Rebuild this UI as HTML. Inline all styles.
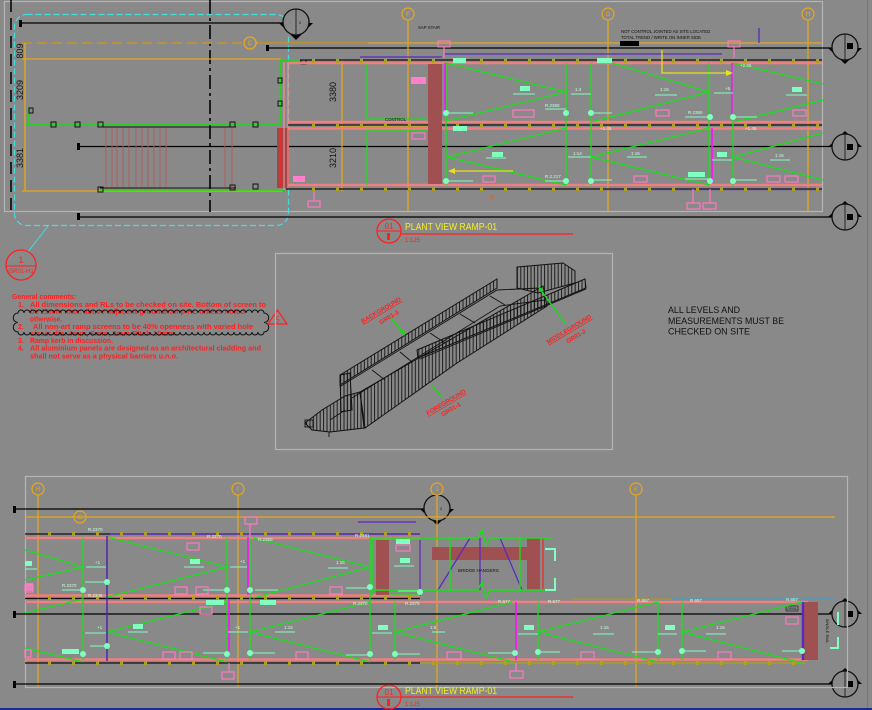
<!DOCTYPE html>
<html><head><meta charset="utf-8"><style>
html,body{margin:0;padding:0;background:#898989;}
svg{display:block;}
text{font-family:"Liberation Sans",sans-serif;}
</style></head><body>
<svg width="872" height="710" viewBox="0 0 872 710" xmlns="http://www.w3.org/2000/svg">
<defs>
<pattern id="h" width="3.4" height="10" patternUnits="userSpaceOnUse"><line x1="0.6" y1="0" x2="0.6" y2="10" stroke="#111" stroke-width="0.9"/></pattern>
<pattern id="ol" width="24" height="4" patternUnits="userSpaceOnUse"><rect x="0" y="0" width="3" height="4" fill="#b0a020"/></pattern>
</defs>
<rect width="872" height="710" fill="#898989"/>
<line x1="867.5" y1="0" x2="867.5" y2="710" stroke="#777" stroke-width="1"/>
<rect x="0" y="708" width="872" height="2" fill="#1c2a96"/>

<!-- ============ TOP PLAN ============ -->
<rect x="4.5" y="1.5" width="818" height="210" fill="none" stroke="#b4b4b4" stroke-width="1.2"/>
<line x1="11" y1="0" x2="11" y2="215" stroke="#000" stroke-width="1.5" stroke-dasharray="12 6"/>
<line x1="210" y1="0" x2="210" y2="212" stroke="#000" stroke-width="1.6" stroke-dasharray="14 4 3 4"/>
<rect x="14.5" y="14.5" width="274" height="211" rx="12" fill="none" stroke="#3fe0e0" stroke-width="1.2" stroke-dasharray="6 3"/>
<line x1="48" y1="226" x2="28" y2="252" stroke="#3fe0e0" stroke-width="1"/>

<!-- black long lines -->
<g stroke="#000" stroke-width="1.3">
<line x1="22" y1="23" x2="283" y2="23"/>
<line x1="258" y1="43" x2="368" y2="43"/>
<line x1="268" y1="48" x2="832" y2="48"/>
<line x1="78" y1="146.5" x2="832" y2="146.5"/>
<line x1="78" y1="217" x2="832" y2="217"/>
</g>
<rect x="19" y="20" width="3" height="7" fill="#000"/>
<rect x="266" y="45" width="3" height="6" fill="#000"/>
<rect x="77" y="143" width="3" height="7" fill="#000"/>
<rect x="77" y="213" width="3" height="7" fill="#000"/>

<!-- orange left structure -->
<line x1="22" y1="43" x2="244" y2="43" stroke="#c89428" stroke-width="1.6" stroke-dasharray="10 5"/>
<g stroke="#e8a818" stroke-width="1.3" fill="none">
<line x1="22" y1="59" x2="281" y2="59"/>
<line x1="25" y1="43" x2="25" y2="191"/>
<line x1="22" y1="191" x2="282" y2="191"/>
<line x1="256" y1="43" x2="430" y2="43"/>
<line x1="430" y1="43" x2="822" y2="43"/>
<circle cx="250" cy="43" r="6"/>
</g>
<g stroke="#e8a818" stroke-width="1.2" fill="none">
<line x1="342" y1="60" x2="342" y2="191"/>
<line x1="340" y1="126" x2="430" y2="126"/>
<line x1="408" y1="20" x2="408" y2="212"/>
<line x1="608" y1="20" x2="608" y2="212"/>
<line x1="808" y1="20" x2="808" y2="212"/>
<circle cx="408" cy="14" r="6"/>
<circle cx="608" cy="14" r="6"/>
<circle cx="808" cy="14" r="6"/>
</g>
<g fill="#e8a818" font-size="6" text-anchor="middle">
<text x="408" y="16">F</text><text x="608" y="16">G</text><text x="808" y="16">H</text><text x="250" y="45">C</text>
</g>
<!-- dims -->
<g fill="#111" font-size="9" text-anchor="middle">
<text transform="translate(23,51) rotate(-90)">809</text>
<text transform="translate(23,90) rotate(-90)">3209</text>
<text transform="translate(23,158) rotate(-90)">3381</text>
<text transform="translate(336,92) rotate(-90)">3380</text>
<text transform="translate(336,158) rotate(-90)">3210</text>
</g>

<!-- green stair area -->
<g stroke="#10e010" stroke-width="1.6" fill="none">
<polyline points="26,124 280,124 280,60 300,60"/>
<line x1="100" y1="190" x2="286" y2="190"/>
<line x1="29" y1="108" x2="29" y2="124"/>
</g>
<g stroke="#b05c5c" stroke-width="1">
<line x1="106" y1="127" x2="106" y2="187"/><line x1="112" y1="127" x2="112" y2="187"/><line x1="117" y1="127" x2="117" y2="187"/><line x1="123" y1="127" x2="123" y2="187"/><line x1="129" y1="127" x2="129" y2="187"/><line x1="136" y1="127" x2="136" y2="187"/><line x1="142" y1="127" x2="142" y2="187"/><line x1="148" y1="127" x2="148" y2="187"/><line x1="154" y1="127" x2="154" y2="187"/><line x1="160" y1="127" x2="160" y2="187"/><line x1="166" y1="127" x2="166" y2="187"/><line x1="225" y1="127" x2="225" y2="187"/><line x1="232" y1="127" x2="232" y2="187"/>
<line x1="212" y1="127" x2="232" y2="127"/>
</g>
<g stroke="#111" stroke-width="1">
<line x1="100" y1="127" x2="236" y2="127"/>
<line x1="100" y1="188" x2="236" y2="188"/>
</g>
<g fill="none" stroke="#111" stroke-width="1">
<rect x="51" y="122" width="5" height="5"/><rect x="75" y="122" width="5" height="5"/><rect x="98" y="122" width="5" height="5"/><rect x="230" y="122" width="5" height="5"/><rect x="253" y="122" width="5" height="5"/>
<rect x="98" y="187" width="5" height="5"/><rect x="230" y="185" width="5" height="5"/><rect x="253" y="184" width="5" height="5"/>
<rect x="278" y="78" width="4" height="5"/><rect x="278" y="101" width="4" height="5"/>
<rect x="29" y="108" width="4" height="5"/><rect x="301" y="60" width="5" height="4"/>
</g>
<rect x="277" y="128" width="12" height="60" fill="#a04848"/>
<line x1="281" y1="128" x2="281" y2="188" stroke="#ff2020" stroke-width="1.5"/>
<g stroke="#f08a8a" stroke-width="1.3">
<line x1="284" y1="62" x2="284" y2="190"/><line x1="288" y1="62" x2="288" y2="190"/>
</g>

<!-- top plan rails -->
<g stroke="#f08080" stroke-width="2.6">
<line x1="288" y1="63" x2="822" y2="63"/>
<line x1="288" y1="122" x2="822" y2="122"/>
<line x1="288" y1="128.5" x2="822" y2="128.5"/>
<line x1="288" y1="185" x2="822" y2="185"/>
</g>
<g stroke="#111" stroke-width="1.2">
<line x1="300" y1="60" x2="822" y2="60"/>
<line x1="288" y1="125" x2="822" y2="125"/>
<line x1="286" y1="189" x2="822" y2="189"/>
</g>
<line x1="600" y1="189.5" x2="822" y2="189.5" stroke="#5020b0" stroke-width="1.2"/>
<g stroke="#5a28c0" stroke-width="1.3">
<line x1="360" y1="57" x2="442" y2="57"/>
<line x1="445" y1="54" x2="722" y2="54"/>
<line x1="759" y1="28" x2="759" y2="43"/>
</g>
<rect x="292" y="59" width="530" height="4" fill="url(#ol)"/>
<rect x="292" y="123" width="530" height="4" fill="url(#ol)"/>
<rect x="292" y="187" width="530" height="4" fill="url(#ol)"/>
<rect x="428" y="64" width="14" height="120" fill="#a05050"/>

<g stroke="#18e018" stroke-width="1.3" fill="none">
<line x1="367" y1="64" x2="367" y2="120"/>
<line x1="367" y1="130" x2="367" y2="185"/>
<line x1="367" y1="119" x2="428" y2="119"/>
<line x1="367" y1="131" x2="428" y2="131"/>
<line x1="446" y1="63" x2="446" y2="185"/>
<line x1="566" y1="63" x2="566" y2="185"/>
<line x1="591" y1="63" x2="591" y2="185"/>
<line x1="709" y1="63" x2="709" y2="185"/>
<line x1="733" y1="63" x2="733" y2="185"/>
<polyline points="446,63 566,92 446,121"/>
<polyline points="612,63 709,92 591,122"/>
<polyline points="733,63 823,84"/>
<polyline points="733,122 823,100"/>
<polyline points="566,128 447,157 566,185"/>
<polyline points="709,128 591,157 709,185"/>
<polyline points="823,133 733,157 823,180"/>
</g>
<g stroke="#ff10ff" stroke-width="1.6">
<line x1="445" y1="63" x2="445" y2="113"/>
<line x1="732" y1="63" x2="732" y2="120"/>
<line x1="712" y1="128" x2="712" y2="183"/>
</g>
<g stroke="#e8e020" stroke-width="1.3" fill="none">
<polyline points="662,50 662,73 730,73"/>
<line x1="452" y1="171" x2="513" y2="171"/>
</g>
<polygon points="733,73 726,70 726,76" fill="#e8e020"/>
<polygon points="448,171 455,168 455,174" fill="#e8e020"/>

<!-- aqua items top -->
<g fill="#80ffc0">
<rect x="453" y="58" width="13" height="5"/><rect x="597" y="58" width="15" height="5"/>
<rect x="520" y="86" width="10" height="5"/><rect x="792" y="87" width="10" height="5"/>
<rect x="453" y="126" width="14" height="5"/><rect x="492" y="152" width="11" height="5"/>
<rect x="717" y="152" width="10" height="5"/><rect x="688" y="172" width="17" height="5"/>
<circle cx="446" cy="113" r="3"/><circle cx="566" cy="113" r="3"/><circle cx="591" cy="113" r="3"/><circle cx="710" cy="117" r="3"/><circle cx="733" cy="117" r="3"/>
<circle cx="446" cy="181" r="3"/><circle cx="566" cy="181" r="3"/><circle cx="591" cy="181" r="3"/><circle cx="710" cy="181" r="3"/><circle cx="733" cy="181" r="3"/>
</g>
<g stroke="#80ffc0" stroke-width="1">
<line x1="446" y1="113" x2="473" y2="113"/><line x1="545" y1="109" x2="566" y2="109"/><line x1="591" y1="113" x2="612" y2="113"/><line x1="685" y1="117" x2="709" y2="117"/><line x1="733" y1="117" x2="757" y2="117"/>
<line x1="513" y1="94" x2="535" y2="94"/><line x1="571" y1="94" x2="591" y2="94"/><line x1="655" y1="95" x2="677" y2="95"/><line x1="714" y1="93" x2="733" y2="93"/><line x1="786" y1="95" x2="807" y2="95"/>
<line x1="486" y1="158" x2="506" y2="158"/><line x1="568" y1="157" x2="591" y2="157"/><line x1="627" y1="157" x2="647" y2="157"/><line x1="712" y1="160" x2="732" y2="160"/><line x1="770" y1="160" x2="790" y2="160"/>
<line x1="446" y1="181" x2="473" y2="181"/><line x1="545" y1="181" x2="566" y2="181"/><line x1="591" y1="180" x2="612" y2="180"/><line x1="685" y1="179" x2="710" y2="179"/><line x1="733" y1="180" x2="757" y2="180"/>
</g>
<g fill="#c8ffe0" font-size="4.5">
<text x="575" y="91">1:4</text><text x="660" y="91">1:15</text><text x="725" y="90">+5</text>
<text x="573" y="155">1:14</text><text x="631" y="155">1:15</text><text x="775" y="157">1:15</text>
<text x="545" y="107">R.2350</text><text x="688" y="114">R.2350</text><text x="545" y="178">R.2.217</text>
<text x="740" y="67">+2.55</text><text x="600" y="130">+1.45</text><text x="745" y="130">+1.45</text>
</g>
<!-- pink boxes top -->
<g fill="none" stroke="#ff78c0" stroke-width="1.2">
<rect x="438" y="41" width="12" height="6"/><rect x="728" y="41" width="12" height="6"/>
<rect x="513" y="110" width="21" height="7"/><rect x="656" y="110" width="13" height="6"/><rect x="793" y="110" width="13" height="6"/>
<rect x="483" y="176" width="12" height="6"/><rect x="634" y="176" width="13" height="6"/><rect x="767" y="176" width="13" height="6"/><rect x="785" y="176" width="13" height="6"/>
<rect x="687" y="203" width="13" height="6"/><rect x="703" y="203" width="13" height="6"/>
<rect x="308" y="201" width="12" height="6"/><rect x="412" y="133" width="13" height="6"/>
<line x1="693" y1="189" x2="693" y2="203"/><line x1="710" y1="189" x2="710" y2="203"/><line x1="314" y1="191" x2="314" y2="201"/>
<line x1="444" y1="47" x2="444" y2="58"/><line x1="734" y1="47" x2="734" y2="58"/>
</g>
<rect x="411" y="77" width="15" height="7" fill="#ff80c8"/>
<rect x="293" y="176" width="12" height="6" fill="#ff80c8"/>
<text x="490" y="199" fill="#e06020" font-size="5">B</text>
<g fill="#111" font-size="4.3">
<text x="418" y="29">SAP STAIR</text>
<text x="385" y="121">CONTROL</text>
<text x="621" y="33">NOT CONTROL JOINTED AS SITE LOCATED</text>
<text x="621" y="39">TOTAL TREND / WRITE ON INNER SIDE</text>
</g>
<rect x="620" y="41" width="19" height="5" fill="#000"/>

<!-- section markers -->
<g>
<polygon points="279,23 313,23 296,40" fill="#000"/>
<circle cx="296" cy="22" r="13" fill="#898989" stroke="#111" stroke-width="1.3"/>
<line x1="296" y1="9" x2="296" y2="35" stroke="#111" stroke-width="0.8"/>
<text x="290" y="24" font-size="4" fill="#111">·</text><text x="299" y="24" font-size="4" fill="#111">2</text>

<polygon points="828,48 862,48 845,64" fill="#000"/>
<circle cx="845" cy="47" r="13" fill="#898989" stroke="#111" stroke-width="1.3"/>
<line x1="845" y1="34" x2="845" y2="60" stroke="#111" stroke-width="0.8"/>
<rect x="847" y="43" width="6" height="6" fill="#000"/>

<polygon points="828,147 862,147 845,131" fill="#000"/>
<circle cx="845" cy="147" r="13" fill="#898989" stroke="#111" stroke-width="1.3"/>
<line x1="845" y1="134" x2="845" y2="160" stroke="#111" stroke-width="0.8"/>
<rect x="847" y="144" width="6" height="6" fill="#000"/>

<polygon points="828,217 862,217 845,201" fill="#000"/>
<circle cx="845" cy="217" r="13" fill="#898989" stroke="#111" stroke-width="1.3"/>
<line x1="845" y1="204" x2="845" y2="230" stroke="#111" stroke-width="0.8"/>
<rect x="847" y="214" width="6" height="6" fill="#000"/>

<polygon points="420,509 454,509 437,525" fill="#000"/>
<circle cx="437" cy="508" r="13" fill="#898989" stroke="#111" stroke-width="1.3"/>
<line x1="437" y1="495" x2="437" y2="521" stroke="#111" stroke-width="0.8"/>
<text x="432" y="510" font-size="4" fill="#111">·</text><text x="440" y="510" font-size="4" fill="#111">2</text>

<polygon points="828,614 862,614 845,598" fill="#000"/>
<circle cx="845" cy="614" r="13" fill="#898989" stroke="#111" stroke-width="1.3"/>
<line x1="845" y1="601" x2="845" y2="627" stroke="#111" stroke-width="0.8"/>
<rect x="847" y="611" width="6" height="6" fill="#000"/>

<polygon points="828,684 862,684 845,668" fill="#000"/>
<circle cx="845" cy="684" r="13" fill="#898989" stroke="#111" stroke-width="1.3"/>
<line x1="845" y1="671" x2="845" y2="697" stroke="#111" stroke-width="0.8"/>
<rect x="847" y="681" width="6" height="6" fill="#000"/>
</g>

<!-- top title -->
<circle cx="389" cy="231" r="12" fill="none" stroke="#ff2020" stroke-width="1.3"/>
<line x1="377" y1="231" x2="573" y2="234" stroke="none"/>
<line x1="377" y1="231" x2="401" y2="231" stroke="#ff2020" stroke-width="1"/>
<line x1="401" y1="234" x2="573" y2="234" stroke="#ff2020" stroke-width="1.2"/>
<rect x="387" y="233" width="3" height="7" fill="#ff2020"/>
<text x="389" y="229" fill="#ff2020" font-size="8" text-anchor="middle">01</text>
<text x="405" y="230" fill="#f0f020" font-size="10.5" textLength="92" lengthAdjust="spacingAndGlyphs">PLANT VIEW RAMP-01</text>
<text x="405" y="242" fill="#ff2020" font-size="6">1:125</text>

<!-- detail callout -->
<circle cx="21" cy="265" r="15" fill="none" stroke="#ff2020" stroke-width="1.3"/>
<line x1="6" y1="266" x2="36" y2="266" stroke="#ff2020" stroke-width="1"/>
<text x="21" y="263" fill="#ff2020" font-size="9" text-anchor="middle">1</text>
<text x="21" y="273" fill="#ff2020" font-size="6" text-anchor="middle">GR01-H1</text>

<!-- general comments -->
<g fill="#ff2020" font-size="7" font-weight="bold">
<text x="12" y="299" textLength="64" lengthAdjust="spacingAndGlyphs">General comments:</text>
<text x="18" y="307">1.</text>
<text x="30" y="307" textLength="236" lengthAdjust="spacingAndGlyphs">All dimensions and RLs to be checked on site. Bottom of screen to</text>
<text x="30" y="314" textLength="215" lengthAdjust="spacingAndGlyphs">be 25mm max. above adjacent ground/ramp RL unless noted</text>
<text x="30" y="321.5" textLength="32" lengthAdjust="spacingAndGlyphs">otherwise.</text>
<text x="18" y="329">2.</text>
<text x="33" y="329" textLength="220" lengthAdjust="spacingAndGlyphs">All non-art ramp screens to be 40% openness with varied hole</text>
<text x="30" y="336" textLength="147" lengthAdjust="spacingAndGlyphs">sizes: dia. 4mm, 6mm, 8mm Pitch 10mm.</text>
<text x="18" y="343">3.</text>
<text x="30" y="343" textLength="83" lengthAdjust="spacingAndGlyphs">Ramp kerb in discussion.</text>
<text x="18" y="350.5">4.</text>
<text x="30" y="350.5" textLength="231" lengthAdjust="spacingAndGlyphs">All aluminium panels are designed as an architectural cladding and</text>
<text x="30" y="358.5" textLength="148" lengthAdjust="spacingAndGlyphs">shall not serve as a physical barriers u.n.o.</text>
</g>
<path d="M18 313 a3 3 0 0 1 6 0 a3 3 0 0 1 6 0 a3 3 0 0 1 6 0 a3 3 0 0 1 6 0 a3 3 0 0 1 6 0 a3 3 0 0 1 6 0 a3 3 0 0 1 6 0 a3 3 0 0 1 6 0 a3 3 0 0 1 6 0 a3 3 0 0 1 6 0 a3 3 0 0 1 6 0 a3 3 0 0 1 6 0 a3 3 0 0 1 6 0 a3 3 0 0 1 6 0 a3 3 0 0 1 6 0 a3 3 0 0 1 6 0 a3 3 0 0 1 6 0 a3 3 0 0 1 6 0 a3 3 0 0 1 6 0 a3 3 0 0 1 6 0 a3 3 0 0 1 6 0 a3 3 0 0 1 6 0 a3 3 0 0 1 6 0 a3 3 0 0 1 6 0 a3 3 0 0 1 6 0 a3 3 0 0 1 6 0 a3 3 0 0 1 6 0 a3 3 0 0 1 6 0 a3 3 0 0 1 6 0 a3 3 0 0 1 6 0 a3 3 0 0 1 6 0 a3 3 0 0 1 6 0 a3 3 0 0 1 6 0 a3 3 0 0 1 6 0 a3 3 0 0 1 6 0 a3 3 0 0 1 6 0 a3 3 0 0 1 6 0 a3 3 0 0 1 6 0 a3 3 0 0 1 6 0 a3 3 0 0 1 6 0 a3 3 0 0 1 6 0 a4 4 0 0 1 0 9.5 a4 4 0 0 1 0 9.5 a3 3 0 0 1 -6 0 a3 3 0 0 1 -6 0 a3 3 0 0 1 -6 0 a3 3 0 0 1 -6 0 a3 3 0 0 1 -6 0 a3 3 0 0 1 -6 0 a3 3 0 0 1 -6 0 a3 3 0 0 1 -6 0 a3 3 0 0 1 -6 0 a3 3 0 0 1 -6 0 a3 3 0 0 1 -6 0 a3 3 0 0 1 -6 0 a3 3 0 0 1 -6 0 a3 3 0 0 1 -6 0 a3 3 0 0 1 -6 0 a3 3 0 0 1 -6 0 a3 3 0 0 1 -6 0 a3 3 0 0 1 -6 0 a3 3 0 0 1 -6 0 a3 3 0 0 1 -6 0 a3 3 0 0 1 -6 0 a3 3 0 0 1 -6 0 a3 3 0 0 1 -6 0 a3 3 0 0 1 -6 0 a3 3 0 0 1 -6 0 a3 3 0 0 1 -6 0 a3 3 0 0 1 -6 0 a3 3 0 0 1 -6 0 a3 3 0 0 1 -6 0 a3 3 0 0 1 -6 0 a3 3 0 0 1 -6 0 a3 3 0 0 1 -6 0 a3 3 0 0 1 -6 0 a3 3 0 0 1 -6 0 a3 3 0 0 1 -6 0 a3 3 0 0 1 -6 0 a3 3 0 0 1 -6 0 a3 3 0 0 1 -6 0 a3 3 0 0 1 -6 0 a3 3 0 0 1 -6 0 a3 3 0 0 1 -6 0 a4 4 0 0 1 0 -9.5 a4 4 0 0 1 0 -9.5 Z" fill="none" stroke="#111" stroke-width="1"/>
<polygon points="268,324 287,324 277.5,310" fill="none" stroke="#ff2020" stroke-width="1.2"/>
<text x="277.5" y="322.5" fill="#ff2020" font-size="8" text-anchor="middle">5</text>

<!-- middle iso box -->
<rect x="275.5" y="253.5" width="337" height="196" fill="none" stroke="#b4b4b4" stroke-width="1.2"/>
<g stroke="#111" stroke-width="1" fill="url(#h)">
<polygon points="340,375 497,279 497,288 340,385"/>
<polygon points="417,350 585,279 586,288 418,358"/>
<polygon points="360,392 543,286 547,306 457,363 365,428"/>
<polygon points="517,267 563,263 575,271 575,283 538,293 517,288"/>
<polygon points="340,375 350,373 352,410 341,412"/>
<polygon points="305,423 322,410 345,396 360,392 364,428 330,432 312,430"/>
</g>
<g stroke="#111" stroke-width="0.9" fill="none">
<polyline points="341,386 497,290 540,288"/>
<polyline points="352,398 500,306 545,300"/>
<line x1="420" y1="359" x2="586" y2="289"/>
<line x1="372" y1="370" x2="385" y2="380"/><line x1="400" y1="352" x2="412" y2="362"/><line x1="430" y1="333" x2="445" y2="343"/><line x1="460" y1="314" x2="475" y2="323"/><line x1="490" y1="296" x2="505" y2="305"/>
<rect x="305" y="420" width="8" height="7"/>
<line x1="329" y1="432" x2="329" y2="437"/><line x1="330" y1="420" x2="345" y2="410"/>
</g>
<g stroke="#10e010" stroke-width="1.4">
<line x1="390" y1="317" x2="404" y2="334"/>
<line x1="565" y1="323" x2="540" y2="289"/>
<line x1="432" y1="385" x2="442" y2="398"/>
</g>
<polygon points="405,336 399,331 404,329" fill="#10e010"/>
<polygon points="538,286 544,290 540,292" fill="#10e010"/>
<g fill="#ff2020" font-size="6.2" font-weight="bold" text-anchor="middle">
<text transform="translate(382,312) rotate(-31)" text-decoration="underline">BACKGROUND</text>
<text transform="translate(390,319) rotate(-31)">GR01-3</text>
<text transform="translate(570,331) rotate(-31)" text-decoration="underline">MIDDLEGROUND</text>
<text transform="translate(577,338) rotate(-31)">GR01-2</text>
<text transform="translate(447,404) rotate(-31)" text-decoration="underline">FOREGROUND</text>
<text transform="translate(452,411) rotate(-31)">GR01-1</text>
</g>

<g fill="#111" font-size="9.3">
<text x="668" y="313" textLength="72" lengthAdjust="spacingAndGlyphs">ALL LEVELS AND</text>
<text x="668" y="324" textLength="116" lengthAdjust="spacingAndGlyphs">MEASUREMENTS MUST BE</text>
<text x="668" y="334.5" textLength="82" lengthAdjust="spacingAndGlyphs">CHECKED ON SITE</text>
</g>

<!-- ============ BOTTOM PLAN ============ -->
<rect x="25.5" y="476.5" width="822" height="211" fill="none" stroke="#b4b4b4" stroke-width="1.2"/>
<g stroke="#e8a818" stroke-width="1.2" fill="none">
<line x1="38" y1="495" x2="38" y2="688"/>
<line x1="238" y1="495" x2="238" y2="688"/>
<line x1="437" y1="495" x2="437" y2="688"/>
<line x1="636" y1="495" x2="636" y2="688"/>
<line x1="25" y1="517" x2="835" y2="517"/>
<circle cx="38" cy="489" r="6"/><circle cx="238" cy="489" r="6"/><circle cx="437" cy="489" r="6"/><circle cx="636" cy="489" r="6"/>
<circle cx="80" cy="517" r="6"/>
</g>
<g fill="#e8a818" font-size="6" text-anchor="middle">
<text x="38" y="491">H</text><text x="238" y="491">I</text><text x="437" y="491">J</text><text x="636" y="491">K</text><text x="80" y="519">C</text>
</g>
<g stroke="#000" stroke-width="1.3">
<line x1="14" y1="509" x2="424" y2="509"/>
<line x1="14" y1="614" x2="832" y2="614"/>
<line x1="14" y1="684" x2="832" y2="684"/>
</g>
<rect x="13" y="506" width="3" height="7" fill="#000"/>
<rect x="13" y="611" width="3" height="7" fill="#000"/>
<rect x="13" y="681" width="3" height="7" fill="#000"/>
<line x1="358" y1="522" x2="416" y2="522" stroke="#5a28c0" stroke-width="1.3"/>

<!-- bottom rails -->
<g stroke="#f08080" stroke-width="2.6">
<line x1="25" y1="538" x2="420" y2="538"/>
<line x1="25" y1="595.5" x2="420" y2="595.5"/>
<line x1="25" y1="602" x2="808" y2="602"/>
<line x1="25" y1="659.5" x2="808" y2="659.5"/>
</g>
<g stroke="#111" stroke-width="1.2">
<line x1="25" y1="534" x2="420" y2="534"/>
<line x1="25" y1="598.5" x2="420" y2="598.5"/>
<line x1="25" y1="663" x2="420" y2="663"/>
</g>
<line x1="110" y1="534" x2="420" y2="534" stroke="#5a28c0" stroke-width="1.2"/>
<line x1="420" y1="663" x2="805" y2="663" stroke="#a8a020" stroke-width="1.4"/>
<line x1="572" y1="599" x2="672" y2="599" stroke="#a8a020" stroke-width="1"/>
<line x1="672" y1="599" x2="835" y2="599" stroke="#30a8d0" stroke-width="1"/>
<rect x="30" y="532" width="390" height="4" fill="url(#ol)"/>
<rect x="30" y="596" width="390" height="4" fill="url(#ol)"/>
<rect x="30" y="661" width="775" height="4" fill="url(#ol)"/>

<!-- bridge -->
<rect x="376" y="540" width="13" height="55" fill="#a05050"/>
<rect x="432" y="547" width="95" height="13" fill="#a05050"/>
<rect x="527" y="538" width="13" height="52" fill="#a05050"/>
<line x1="543" y1="538" x2="543" y2="590" stroke="#ff2020" stroke-width="1.2"/>
<g stroke="#5a28c0" stroke-width="1.2">
<line x1="438" y1="590" x2="470" y2="538"/>
<line x1="480" y1="538" x2="480" y2="590"/>
<line x1="500" y1="538" x2="522" y2="590"/>
<line x1="420" y1="540" x2="420" y2="596"/>
</g>
<g stroke="#18e018" stroke-width="1.4" fill="none">
<polyline points="370,538 478,538 482,530 486,545 490,538 552,538"/>
<polyline points="372,590 478,590 482,582 486,598 490,590 552,590"/>
<line x1="372" y1="538" x2="372" y2="596"/>
<line x1="450" y1="538" x2="450" y2="590"/>
<line x1="520" y1="538" x2="520" y2="590"/>
</g>
<g stroke="#80ffc0" stroke-width="2" fill="none">
<polyline points="545,549 555,549 555,561"/>
<polyline points="545,590 555,590 555,578"/>
<polyline points="838,612 838,625"/>
<polyline points="830,648 838,648 838,637"/>
</g>
<text x="458" y="572" fill="#111" font-size="4.5">BRIDGE HANGERS</text>
<rect x="803" y="602" width="15" height="58" fill="#a05050"/>
<line x1="803" y1="602" x2="803" y2="660" stroke="#5a28c0" stroke-width="2.4"/>
<text transform="translate(826,631) rotate(90)" fill="#111" font-size="4" text-anchor="middle">SINGLE RAIL</text>
<rect x="786" y="606" width="12" height="5" fill="none" stroke="#111" stroke-width="0.6"/>
<text x="787" y="610" fill="#111" font-size="3.8">GR01</text>

<!-- bottom green verticals/zigzags -->
<g stroke="#18e018" stroke-width="1.3" fill="none">
<line x1="83" y1="538" x2="83" y2="660"/>
<line x1="227" y1="538" x2="227" y2="660"/>
<line x1="250" y1="538" x2="250" y2="660"/>
<line x1="370" y1="538" x2="370" y2="660"/>
<line x1="395" y1="602" x2="395" y2="660"/>
<line x1="538" y1="602" x2="538" y2="660"/>
<line x1="658" y1="602" x2="658" y2="660"/>
<line x1="682" y1="602" x2="682" y2="660"/>
<polyline points="25,550 83,567 25,580"/>
<polyline points="107,537 227,567 107,597"/>
<polyline points="253,538 370,567 253,598"/>
<polyline points="25,613 83,599"/>
<polyline points="25,648 83,662"/>
<polyline points="227,602 107,632 227,662"/>
<polyline points="370,602 250,632 370,662"/>
<polyline points="512,602 395,632 513,662"/>
<polyline points="658,602 538,632 658,662"/>
<polyline points="802,602 682,632 802,663"/>
<line x1="389" y1="595" x2="420" y2="595"/>
</g>
<line x1="107" y1="536" x2="107" y2="661" stroke="#4a20b0" stroke-width="1.4"/>
<g stroke="#ff10ff" stroke-width="1.6">
<line x1="248" y1="537" x2="248" y2="595"/>
<line x1="229" y1="600" x2="229" y2="656"/>
<line x1="516" y1="602" x2="516" y2="660"/>
</g>

<!-- aqua bottom -->
<g fill="#80ffc0">
<rect x="190" y="559" width="10" height="5"/><rect x="25" y="561" width="7" height="5"/>
<rect x="206" y="600" width="18" height="5"/><rect x="260" y="600" width="16" height="5"/>
<rect x="133" y="624" width="10" height="5"/><rect x="62" y="649" width="17" height="5"/>
<rect x="378" y="625" width="10" height="5"/><rect x="524" y="625" width="10" height="5"/><rect x="665" y="625" width="10" height="5"/>
<rect x="396" y="539" width="14" height="5"/><rect x="400" y="558" width="10" height="5"/><rect x="398" y="539" width="0" height="0"/>
<circle cx="83" cy="590" r="3"/><circle cx="107" cy="582" r="3"/><circle cx="227" cy="590" r="3"/><circle cx="250" cy="590" r="3"/><circle cx="370" cy="587" r="3"/><circle cx="420" cy="592" r="3"/>
<circle cx="83" cy="654" r="3"/><circle cx="107" cy="646" r="3"/><circle cx="227" cy="654" r="3"/><circle cx="250" cy="653" r="3"/><circle cx="370" cy="654" r="3"/><circle cx="395" cy="654" r="3"/>
<circle cx="515" cy="653" r="3"/><circle cx="538" cy="652" r="3"/><circle cx="658" cy="652" r="3"/><circle cx="682" cy="651" r="3"/><circle cx="802" cy="651" r="3"/>
</g>
<g stroke="#80ffc0" stroke-width="1">
<line x1="184" y1="567" x2="204" y2="567"/><line x1="86" y1="567" x2="106" y2="567"/><line x1="25" y1="569" x2="37" y2="569"/><line x1="230" y1="567" x2="247" y2="567"/><line x1="328" y1="568" x2="348" y2="568"/><line x1="394" y1="566" x2="414" y2="566"/>
<line x1="62" y1="590" x2="83" y2="590"/><line x1="85" y1="582" x2="107" y2="582"/><line x1="203" y1="590" x2="227" y2="590"/><line x1="255" y1="590" x2="278" y2="590"/><line x1="346" y1="588" x2="370" y2="588"/><line x1="398" y1="591" x2="420" y2="591"/>
<line x1="128" y1="632" x2="148" y2="632"/><line x1="85" y1="633" x2="106" y2="633"/><line x1="228" y1="632" x2="248" y2="632"/><line x1="275" y1="632" x2="295" y2="632"/><line x1="372" y1="633" x2="392" y2="633"/>
<line x1="90" y1="646" x2="107" y2="646"/><line x1="203" y1="653" x2="227" y2="653"/><line x1="250" y1="653" x2="275" y2="653"/><line x1="346" y1="655" x2="370" y2="655"/><line x1="395" y1="654" x2="420" y2="654"/>
<line x1="518" y1="634" x2="538" y2="634"/><line x1="593" y1="634" x2="614" y2="634"/><line x1="658" y1="634" x2="677" y2="634"/><line x1="706" y1="634" x2="726" y2="634"/><line x1="432" y1="632" x2="445" y2="632"/>
<line x1="488" y1="653" x2="515" y2="653"/><line x1="538" y1="652" x2="560" y2="652"/><line x1="632" y1="652" x2="658" y2="652"/><line x1="682" y1="651" x2="706" y2="651"/><line x1="782" y1="651" x2="802" y2="651"/>
</g>
<g fill="#c8ffe0" font-size="4.5">
<text x="88" y="531">R.2370</text><text x="207" y="538">R.2370</text><text x="258" y="541">R.2350</text><text x="355" y="537">R.2481</text>
<text x="95" y="564">+1</text><text x="240" y="563">+1</text><text x="336" y="564">1:15</text>
<text x="62" y="587">R.2370</text><text x="88" y="597">R.2346</text>
<text x="97" y="629">+1</text><text x="235" y="629">+1</text><text x="284" y="629">1:15</text>
<text x="353" y="605">R.2370</text><text x="405" y="605">R.2370</text>
<text x="498" y="603">R.677</text><text x="548" y="603">R.677</text><text x="637" y="602">R.657</text><text x="690" y="602">R.657</text><text x="786" y="601">R.657</text>
<text x="600" y="629">1:15</text><text x="716" y="629">1:15</text><text x="430" y="629">1:5</text>
</g>
<g fill="none" stroke="#ff78c0" stroke-width="1.2">
<rect x="187" y="543" width="12" height="7"/><rect x="245" y="517" width="12" height="7"/><rect x="25" y="585" width="8" height="7"/>
<rect x="175" y="587" width="12" height="7"/><rect x="196" y="587" width="12" height="7"/><rect x="330" y="587" width="12" height="7"/>
<rect x="200" y="607" width="12" height="7"/><rect x="396" y="545" width="14" height="6"/>
<rect x="163" y="652" width="12" height="7"/><rect x="180" y="652" width="12" height="7"/><rect x="296" y="652" width="12" height="7"/>
<rect x="222" y="672" width="12" height="7"/><rect x="25" y="650" width="6" height="7"/>
<rect x="447" y="652" width="14" height="7"/><rect x="581" y="652" width="13" height="7"/><rect x="718" y="652" width="13" height="7"/>
<rect x="510" y="671" width="13" height="7"/><rect x="786" y="617" width="12" height="7"/>
<line x1="250" y1="524" x2="250" y2="537"/><line x1="229" y1="663" x2="229" y2="672"/><line x1="516" y1="663" x2="516" y2="671"/>
</g>
<rect x="25" y="583" width="8" height="8" fill="#ff80c8" opacity="0.8"/>

<!-- bottom title -->
<circle cx="389" cy="697" r="12" fill="none" stroke="#ff2020" stroke-width="1.3"/>
<line x1="377" y1="697" x2="401" y2="697" stroke="#ff2020" stroke-width="1"/>
<line x1="401" y1="697" x2="573" y2="697" stroke="#ff2020" stroke-width="1.2"/>
<rect x="387" y="699" width="3" height="7" fill="#ff2020"/>
<text x="389" y="695" fill="#ff2020" font-size="8" text-anchor="middle">01</text>
<text x="405" y="694" fill="#f0f020" font-size="10.5" textLength="92" lengthAdjust="spacingAndGlyphs">PLANT VIEW RAMP-01</text>
<text x="405" y="706" fill="#ff2020" font-size="6">1:125</text>
</svg>
</body></html>
